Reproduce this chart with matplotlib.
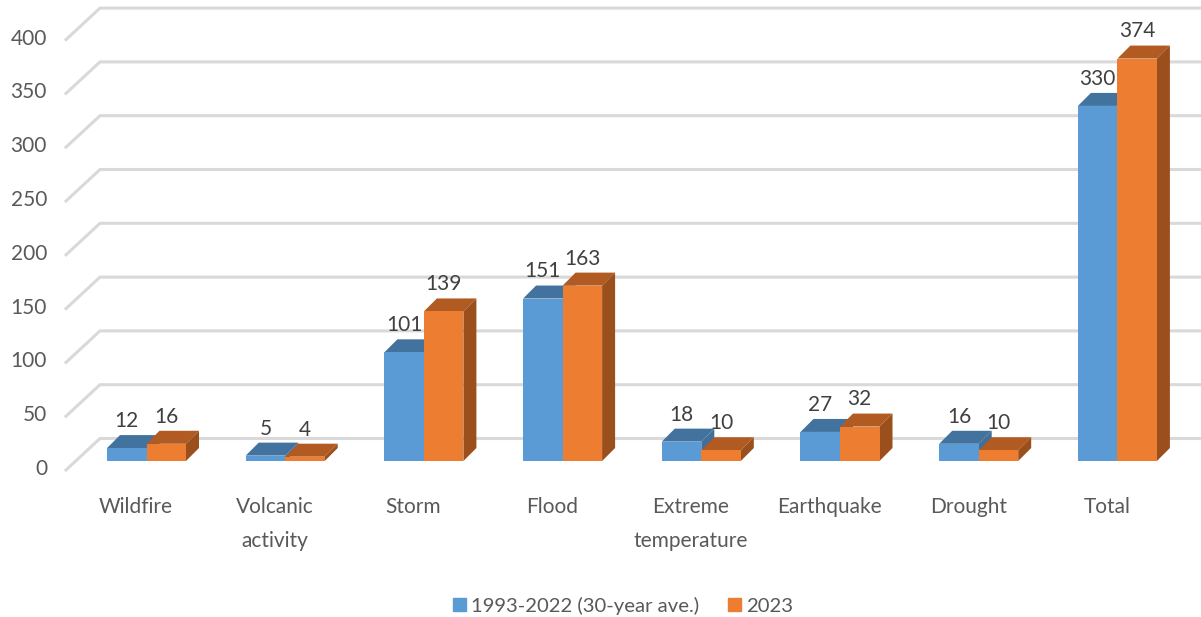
import matplotlib
matplotlib.use("Agg")
import matplotlib.pyplot as plt
from matplotlib.patches import Polygon, Patch

categories = ["Wildfire", "Volcanic\nactivity", "Storm", "Flood", "Extreme\ntemperature",
              "Earthquake", "Drought", "Total"]
avg_30y = [12, 5, 101, 151, 18, 27, 16, 330]
year_2023 = [16, 4, 139, 163, 10, 32, 10, 374]
y_ticks = [0, 50, 100, 150, 200, 250, 300, 350, 400]
series_names = ["1993-2022 (30-year ave.)", "2023"]

plt.rcParams['font.family'] = ['Lato', 'DejaVu Sans']

W, H = 1201, 617
X0, X_STEP = 146.5, 138.7   # px of first category, px per category
Y0, Y_STEP = 461, 1.076   # px of value 0, px per value

fig = plt.figure(figsize=(W / 100, H / 100), dpi=100)
ax = fig.add_axes([0, 0, 1, 1])
ax.set_xlim(-X0 / X_STEP, (W - X0) / X_STEP)
ax.set_ylim(-(H - Y0) / Y_STEP, Y0 / Y_STEP)
ax.axis("off")

# sizes in data units
bar_w = 39.5 / X_STEP
depth_x = 13 / X_STEP
depth_y = 13 / Y_STEP
wall_left = (66 - X0) / X_STEP
wall_back = (100 - X0) / X_STEP
wall_right = (W - X0) / X_STEP
front_off = -9 / Y_STEP
back_off = 22.5 / Y_STEP

text_col = "#595959"
text_size = 15

for v in y_ticks:
    ax.plot([wall_left, wall_back, wall_right], [v + front_off, v + back_off, v + back_off],
            color="#D9D9D9", lw=2.2, solid_joinstyle="miter", zorder=1)
    ax.text((47 - X0) / X_STEP, v - 8 / Y_STEP, str(v), ha="right", va="center",
            color=text_col, fontsize=text_size)


def draw_bar(x_left, val, front, top, side, z):
    x_right = x_left + bar_w
    ax.bar(x_left, val, width=bar_w, align="edge", color=front, zorder=z + 0.2)
    ax.add_patch(Polygon([(x_left, val), (x_right, val), (x_right + depth_x, val + depth_y),
                          (x_left + depth_x, val + depth_y)], closed=True, fc=top, ec="none", zorder=z))
    ax.add_patch(Polygon([(x_right, 0), (x_right, val), (x_right + depth_x, val + depth_y),
                          (x_right + depth_x, depth_y)], closed=True, fc=side, ec="none", zorder=z))


for i in range(len(categories)):
    draw_bar(i - bar_w, avg_30y[i], "#5B9BD5", "#42739F", "#3F6F9A", 2 + i)
    draw_bar(i, year_2023[i], "#ED7D31", "#B15A22", "#9A4F1C", 2.5 + i)
    ax.annotate(str(avg_30y[i]), (i - bar_w / 2, avg_30y[i]), xytext=(0, 19.5), textcoords="offset points",
                ha="center", va="center", color="#404040", fontsize=text_size, zorder=20)
    ax.annotate(str(year_2023[i]), (i + bar_w / 2, year_2023[i]), xytext=(0, 19.5), textcoords="offset points",
                ha="center", va="center", color="#404040", fontsize=text_size, zorder=20)
    ax.text(i - 10.5 / X_STEP, -36 / Y_STEP, categories[i], ha="center", va="top",
            color=text_col, fontsize=text_size, linespacing=1.85)

handles = [Patch(color="#5B9BD5"), Patch(color="#ED7D31")]
ax.legend(handles, series_names, loc="center", bbox_to_anchor=(623 / W, 1 - 606 / H), ncols=2,
          frameon=False, fontsize=14.6, labelcolor=text_col, handlelength=0.62, handleheight=0.62,
          handletextpad=0.24, columnspacing=1.44, borderpad=0, borderaxespad=0)

fig.savefig("out.png", dpi=100)
